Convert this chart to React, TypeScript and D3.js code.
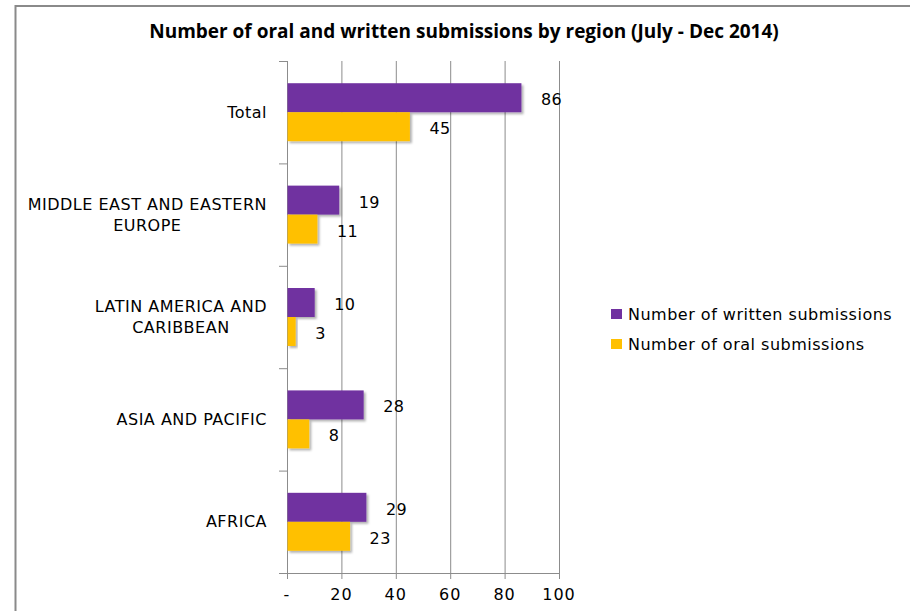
import React, { useEffect, useRef } from "react";
import * as d3 from "d3";

const categories = [
  ["Total"],
  ["MIDDLE EAST AND EASTERN", "EUROPE"],
  ["LATIN AMERICA AND", "CARIBBEAN"],
  ["ASIA AND PACIFIC"],
  ["AFRICA"],
];
const categoryKeys = ["Total", "Middle East", "Latin America", "Asia", "Africa"];
const writtenValues = [86, 19, 10, 28, 29];
const oralValues = [45, 11, 3, 8, 23];
const seriesNames = ["Number of written submissions", "Number of oral submissions"];
const seriesColors = ["#7030A0", "#FFC000"];
const xTicks = [0, 20, 40, 60, 80, 100];
const xTickLabels = ["-", "20", "40", "60", "80", "100"];
const title = "Number of oral and written submissions by region (July - Dec 2014)";

const W = 910;
const H = 611;
const FONT = "'DejaVu Sans', Verdana, sans-serif";

export default function App() {
  const ref = useRef<SVGSVGElement>(null);

  useEffect(() => {
    const svg = d3.select(ref.current);
    svg.selectAll("*").remove();

    const defs = svg.append("defs");
    const f = defs.append("filter").attr("id", "shadow").attr("x", "-10%").attr("y", "-10%").attr("width", "130%").attr("height", "140%");
    f.append("feDropShadow").attr("dx", 2).attr("dy", 2).attr("stdDeviation", 1.2).attr("flood-color", "#000").attr("flood-opacity", 0.3);

    svg.append("rect").attr("width", W).attr("height", H).attr("fill", "#fff");
    // chart border
    svg.append("rect").attr("x", 15.5).attr("y", 6).attr("width", W + 20).attr("height", H + 20)
      .attr("fill", "none").attr("stroke", "#8a8a8a").attr("stroke-width", 2);

    svg.append("text").attr("x", 464).attr("y", 38).attr("text-anchor", "middle")
      .attr("font-family", "'Open Sans', sans-serif").attr("font-weight", "bold").attr("font-size", 19)
      .attr("fill", "#000").text(title);

    const x = d3.scaleLinear().domain([0, 100]).range([287, 559]);
    const y = d3.scaleBand<string>().domain(categoryKeys).range([61, 573]).paddingInner(0.434).paddingOuter(0.217);
    const ySub = d3.scaleBand<number>().domain([0, 1]).range([0, y.bandwidth()]);
    const step = y.step();

    // gridlines
    svg.append("g").selectAll("line").data(xTicks.slice(1)).join("line")
      .attr("x1", (d) => x(d) + 0.5).attr("x2", (d) => x(d) + 0.5)
      .attr("y1", 61).attr("y2", 573).attr("stroke", "#8c8c8c").attr("stroke-width", 1);

    // x axis
    svg.append("line").attr("x1", 287).attr("x2", 559.5).attr("y1", 573.5).attr("y2", 573.5).attr("stroke", "#8c8c8c");
    svg.append("g").selectAll("line").data(xTicks).join("line")
      .attr("x1", (d) => x(d) + 0.5).attr("x2", (d) => x(d) + 0.5)
      .attr("y1", 573).attr("y2", 579).attr("stroke", "#8c8c8c");
    svg.append("g").selectAll("text").data(xTicks).join("text")
      .attr("x", (d) => x(d)).attr("y", 600).attr("text-anchor", "middle")
      .attr("font-family", FONT).attr("font-size", 16).attr("letter-spacing", 1).attr("fill", "#000")
      .text((d, i) => xTickLabels[i]);

    // y axis
    svg.append("line").attr("x1", 287.5).attr("x2", 287.5).attr("y1", 61).attr("y2", 573).attr("stroke", "#8c8c8c");
    svg.append("g").selectAll("line").data(d3.range(categoryKeys.length + 1)).join("line")
      .attr("x1", 279).attr("x2", 287).attr("y1", (i) => 61 + i * step + 0.5).attr("y2", (i) => 61 + i * step + 0.5)
      .attr("stroke", "#8c8c8c");

    // category labels
    const labelRight = 267;
    categoryKeys.forEach((k, i) => {
      const lines = categories[i];
      const c = y(k)! + y.bandwidth() / 2;
      const g = svg.append("g");
      const texts = lines.map((ln, j) =>
        g.append("text").attr("y", c + 5.5 + (j - (lines.length - 1) / 2) * 21)
          .attr("font-family", FONT).attr("font-size", 16).attr("letter-spacing", 0.5).attr("fill", "#000")
          .attr("text-anchor", "middle").text(ln)
      );
      const maxW = d3.max(texts, (t) => (t.node() as SVGTextElement).getComputedTextLength()) || 0;
      texts.forEach((t) => t.attr("x", labelRight - maxW / 2));
    });

    // bars
    const series = [writtenValues, oralValues];
    series.forEach((vals, s) => {
      const g = svg.append("g");
      g.selectAll("rect").data(vals).join("rect")
        .attr("x", x(0) + 0.5)
        .attr("y", (d, i) => y(categoryKeys[i])! + ySub(s)!)
        .attr("width", (d) => x(d) - x(0))
        .attr("height", ySub.bandwidth())
        .attr("fill", seriesColors[s])
        .attr("filter", "url(#shadow)");
      g.selectAll("text").data(vals).join("text")
        .attr("x", (d) => x(d) + 20)
        .attr("y", (d, i) => y(categoryKeys[i])! + ySub(s)! + ySub.bandwidth() / 2 + 7.5)
        .attr("font-family", FONT).attr("font-size", 16).attr("letter-spacing", 0.5).attr("fill", "#000")
        .text((d) => String(d));
    });

    // legend
    const lg = svg.append("g");
    seriesNames.forEach((n, i) => {
      lg.append("rect").attr("x", 611).attr("y", 309 + i * 30).attr("width", 11).attr("height", 10).attr("fill", seriesColors[i]);
      lg.append("text").attr("x", 628).attr("y", 320 + i * 30)
        .attr("font-family", FONT).attr("font-size", 16).attr("letter-spacing", 0.5).attr("fill", "#000").text(n);
    });
  }, []);

  return <svg ref={ref} width={W} height={H} style={{ position: "absolute", left: 0, top: 0 }} />;
}
